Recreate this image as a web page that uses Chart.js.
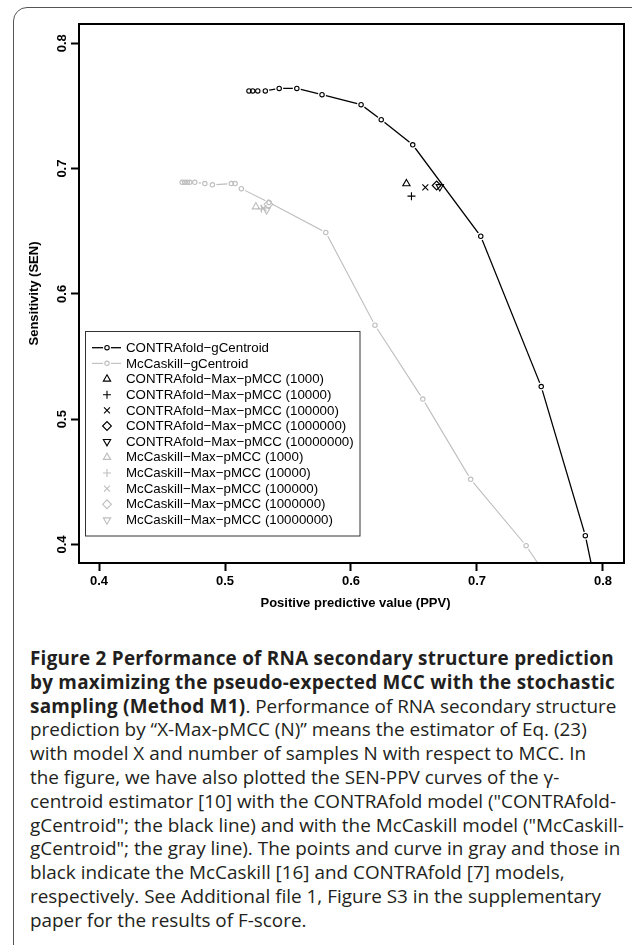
<!DOCTYPE html>
<html>
<head>
<meta charset="utf-8">
<script src="https://cdn.jsdelivr.net/npm/chart.js@4.4.1/dist/chart.umd.min.js"></script>
<style>
  html, body { margin: 0; padding: 0; background: #fff; }
  body { width: 632px; height: 945px; position: relative; overflow: hidden; }
  #frame { position: absolute; left: 13px; top: 7px; width: 700px; height: 1000px; border: 1px solid #555; border-top-left-radius: 14px; }
  #plot { position: absolute; left: 0; top: 0; }
  #caption { position: absolute; left: 30px; top: 647px; font-family: "Open Sans"; font-size: 18.9px; line-height: 23.8px; color: #231f20; white-space: nowrap; }
  #caption b { font-weight: 700; letter-spacing: 0.25px; }
</style>
</head>
<body>
<div id="frame"></div>
<canvas id="plot" width="632" height="620"></canvas>
<div id="caption">
  <div><b>Figure 2 Performance of RNA secondary structure prediction</b></div>
  <div><b>by maximizing the pseudo-expected MCC with the stochastic</b></div>
  <div><b>sampling (Method M1)</b>. Performance of RNA secondary structure</div>
  <div>prediction by “X-Max-pMCC (N)” means the estimator of Eq. (23)</div>
  <div>with model X and number of samples N with respect to MCC. In</div>
  <div>the figure, we have also plotted the SEN-PPV curves of the γ-</div>
  <div>centroid estimator [10] with the CONTRAfold model ("CONTRAfold-</div>
  <div>gCentroid"; the black line) and with the McCaskill model ("McCaskill-</div>
  <div>gCentroid"; the gray line). The points and curve in gray and those in</div>
  <div>black indicate the McCaskill [16] and CONTRAfold [7] models,</div>
  <div>respectively. See Additional file 1, Figure S3 in the supplementary</div>
  <div>paper for the results of F-score.</div>
</div>
<script>
// gamma-centroid curves (PPV, SEN)
const ppvContra = [0.519, 0.522, 0.526, 0.532, 0.543, 0.557, 0.577, 0.608, 0.624, 0.649, 0.703, 0.751, 0.786, 0.800];
const senContra = [0.762, 0.762, 0.762, 0.762, 0.764, 0.764, 0.759, 0.751, 0.739, 0.719, 0.646, 0.526, 0.407, 0.340];
const ppvMcc = [0.466, 0.468, 0.470, 0.472, 0.476, 0.484, 0.490, 0.505, 0.508, 0.513, 0.535, 0.580, 0.619, 0.657, 0.695, 0.739, 0.775];
const senMcc = [0.689, 0.689, 0.689, 0.689, 0.689, 0.688, 0.687, 0.688, 0.688, 0.684, 0.673, 0.649, 0.575, 0.516, 0.452, 0.399, 0.345];

// Max-pMCC points, one per number of samples
const sampleSizes = ["1000", "10000", "100000", "1000000", "10000000"];
const ppvContraMax = [0.644, 0.648, 0.659, 0.668, 0.6705];
const senContraMax = [0.688, 0.678, 0.685, 0.6865, 0.6855];
const ppvMccMax = [0.5245, 0.529, 0.5305, 0.5345, 0.533];
const senMccMax = [0.6695, 0.668, 0.6685, 0.6715, 0.667];

const tickVals = [0.4, 0.5, 0.6, 0.7, 0.8];
const markerStyles = ["triangle", "cross", "crossRot", "rectRot", "triangle"];
const markerRot = [0, 0, 0, 0, 180];
const markerSize = [4.2, 4, 4.2, 4.4, 4.2];

const BLACK = "#000";
const GRAY = "#bebebe";
const zip = (xs, ys) => xs.map((x, i) => ({ x, y: ys[i] }));

function curveSets(name, xs, ys, color, width) {
  const data = zip(xs, ys);
  return [
    { label: name, data, showLine: true, borderColor: color, borderWidth: width, pointRadius: 0, order: 30 },
    { label: "", data, showLine: false, pointRadius: 4, pointBorderWidth: 0, pointBackgroundColor: "#fff", pointBorderColor: "#fff", order: 20 },
    { label: "", data, showLine: false, pointRadius: 2.2, pointBorderWidth: 1.1, pointBackgroundColor: "rgba(0,0,0,0)", pointBorderColor: color, order: 10 },
  ];
}

function markerSets(prefix, xs, ys, color) {
  return sampleSizes.map((n, i) => ({
    label: `${prefix}-Max-pMCC (${n})`,
    data: [{ x: xs[i], y: ys[i] }],
    showLine: false,
    pointStyle: markerStyles[i],
    rotation: markerRot[i],
    pointRadius: markerSize[i],
    pointBorderWidth: 1.1,
    pointBorderColor: color,
    pointBackgroundColor: "rgba(0,0,0,0)",
    order: 5,
  }));
}

const datasets = [
  ...curveSets("CONTRAfold-gCentroid", ppvContra, senContra, BLACK, 1.3),
  ...curveSets("McCaskill-gCentroid", ppvMcc, senMcc, GRAY, 1.1),
  ...markerSets("CONTRAfold", ppvContraMax, senContraMax, BLACK),
  ...markerSets("McCaskill", ppvMccMax, senMccMax, GRAY),
];

const legendRows = [
  { text: "CONTRAfold−gCentroid", color: BLACK, line: true },
  { text: "McCaskill−gCentroid", color: GRAY, line: true },
  ...sampleSizes.map((n, i) => ({ text: `CONTRAfold−Max−pMCC (${n})`, color: BLACK, style: markerStyles[i], rot: markerRot[i], r: markerSize[i] })),
  ...sampleSizes.map((n, i) => ({ text: `McCaskill−Max−pMCC (${n})`, color: GRAY, style: markerStyles[i], rot: markerRot[i], r: markerSize[i] })),
];

const rPlot = {
  id: "rPlot",
  afterDraw(chart) {
    const { ctx, chartArea: a, scales } = chart;
    ctx.save();
    // box around plot region
    ctx.strokeStyle = "#000";
    ctx.lineWidth = 2;
    ctx.strokeRect(a.left, a.top, a.right - a.left, a.bottom - a.top);

    // rotated y tick labels
    ctx.fillStyle = "#000";
    ctx.font = "bold 13px 'Liberation Sans'";
    ctx.textAlign = "center";
    ctx.textBaseline = "middle";
    tickVals.forEach((v) => {
      const y = scales.y.getPixelForValue(v);
      ctx.save();
      ctx.translate(62, y);
      ctx.rotate(-Math.PI / 2);
      ctx.fillText(v.toFixed(1), 0, 0);
      ctx.restore();
    });

    // axis titles
    ctx.font = "bold 13px 'Liberation Sans'";
    ctx.fillText("Positive predictive value (PPV)", (a.left + a.right) / 2 + 4, 603);
    ctx.save();
    ctx.translate(34, (a.top + a.bottom) / 2);
    ctx.rotate(-Math.PI / 2);
    ctx.fillText("Sensitivity (SEN)", 0, 0);
    ctx.restore();

    // legend
    ctx.lineWidth = 1;
    ctx.strokeStyle = "#333";
    ctx.strokeRect(85.5, 331.5, 274.5, 204.5);
    ctx.font = "13.3px 'Liberation Sans'";
    ctx.textAlign = "left";
    legendRows.forEach((row, i) => {
      const y = 347.7 + i * 15.66;
      const sx = 107;
      ctx.strokeStyle = row.color;
      ctx.fillStyle = "rgba(0,0,0,0)";
      if (row.line) {
        ctx.lineWidth = i === 0 ? 1.3 : 1.1;
        ctx.beginPath();
        ctx.moveTo(92, y);
        ctx.lineTo(121, y);
        ctx.stroke();
        ctx.fillStyle = "#fff";
        ctx.beginPath();
        ctx.arc(sx, y, 4, 0, Math.PI * 2);
        ctx.fill();
        ctx.lineWidth = 1.1;
        ctx.beginPath();
        ctx.arc(sx, y, 2.2, 0, Math.PI * 2);
        ctx.stroke();
      } else {
        ctx.lineWidth = 1.1;
        Chart.helpers.drawPoint(ctx, { pointStyle: row.style, radius: row.r, rotation: row.rot, borderWidth: 1.1 }, sx, y);
      }
      ctx.fillStyle = "#000";
      ctx.fillText(row.text, 126, y + 0.5);
    });
    ctx.restore();
  },
};

const axisCommon = {
  type: "linear",
  border: { display: false },
  grid: { drawOnChartArea: false, color: "#000", tickLength: 8, tickWidth: 2 },
  afterBuildTicks: (scale) => {
    scale.ticks = tickVals.map((v) => ({ value: v }));
  },
};

new Chart(document.getElementById("plot"), {
  type: "scatter",
  data: { datasets },
  options: {
    responsive: false,
    animation: false,
    devicePixelRatio: 1,
    layout: { padding: { top: 24, right: 8, left: 0, bottom: 0 } },
    plugins: { legend: { display: false }, tooltip: { enabled: false } },
    scales: {
      x: {
        ...axisCommon,
        min: 0.3841,
        max: 0.8167,
        ticks: {
          color: "#000",
          font: { family: "Liberation Sans", size: 13, weight: "bold" },
          padding: 3,
          maxRotation: 0,
          callback: (v) => v.toFixed(1),
        },
        afterFit: (scale) => { scale.height = 57; },
      },
      y: {
        ...axisCommon,
        min: 0.3852,
        max: 0.8154,
        ticks: { display: false },
        afterFit: (scale) => { scale.width = 79; },
      },
    },
  },
  plugins: [rPlot],
});
</script>
</body>
</html>
